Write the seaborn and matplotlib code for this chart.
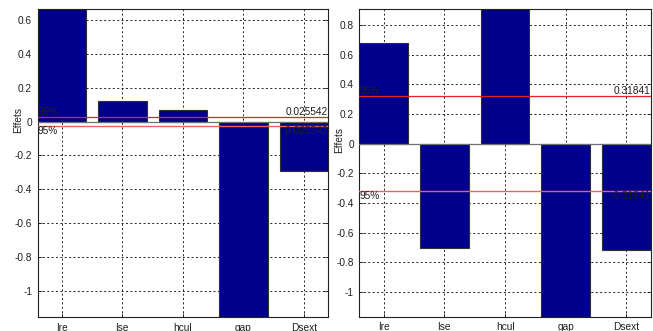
import numpy as np
import pandas as pd
import matplotlib
matplotlib.use("Agg")
import matplotlib.pyplot as plt
import seaborn as sns

# Factor names and effect estimates for the two responses
factors = ["Ire", "Ise", "hcul", "gap", "Dsext"]
effects_left = [0.667, 0.122, 0.067, -1.156, -0.292]
effects_right = [0.677, -0.701, 0.908, -1.167, -0.717]
# 95% significance thresholds
threshold_left = 0.025542
threshold_right = 0.31841

sns.set_theme(style="white")
plt.rcParams["font.family"] = ["Liberation Sans", "DejaVu Sans"]
plt.rcParams["axes.unicode_minus"] = False

navy = "#00008C"
fs = 7.3

fig = plt.figure(figsize=(6.53, 3.31), dpi=100)
ax_l = fig.add_axes([0.0577, 0.0423, 0.4446, 0.9305])
ax_r = fig.add_axes([0.5503, 0.0432, 0.4463, 0.9296])


def draw_panel(ax, values, thr, label_y):
    df = pd.DataFrame({"facteur": factors, "effet": values})
    sns.barplot(data=df, x="facteur", y="effet", color=navy, saturation=1,
                width=0.8, edgecolor="#303030", linewidth=0.8, ax=ax)
    ax.set_axisbelow(True)
    ax.set_xlim(-0.4, len(factors) - 0.6)
    lo, hi = min(values), max(values)
    ax.set_ylim(lo, hi)
    ticks = np.round(np.arange(-1.0, 1.0001, 0.2), 1)
    ticks = [t for t in ticks if lo <= t <= hi]
    ax.set_yticks(ticks)
    ax.set_yticklabels(["0" if abs(t) < 1e-9 else f"{t:g}" for t in ticks])
    ax.grid(True, axis="both", color="#202020", linestyle=(0, (2, 2.5)), linewidth=0.7)
    ax.tick_params(axis="y", direction="in", length=3, width=0.6,
                   labelsize=fs, colors="#202020", pad=4, right=True, left=True)
    ax.tick_params(axis="x", direction="in", length=3, width=0.6,
                   labelsize=fs, colors="#202020", pad=4, top=False, bottom=True)
    for s in ax.spines.values():
        s.set_visible(True)
        s.set_color("#202020")
        s.set_linewidth(0.8)
    ax.set_xlabel("")
    ax.set_ylabel("Effets", fontsize=fs, color="#202020")
    ax.yaxis.set_label_coords(-0.051, label_y)
    # zero baseline
    ax.axhline(0, color="#707070", linewidth=0.9, zorder=3)
    # significance lines
    ax.axhline(thr, color="#e82020", linewidth=0.9, zorder=4)
    ax.axhline(-thr, color="#f06060", linewidth=1.0, zorder=4)
    tr = ax.get_yaxis_transform()
    ax.text(0.0, thr, "95%", transform=tr, ha="left", va="bottom",
            fontsize=fs, color="#202020", zorder=5)
    ax.text(1.0, thr, f"{thr:g}", transform=tr, ha="right", va="bottom",
            fontsize=fs, color="#202020", zorder=5)
    ax.text(0.0, -thr, "95%", transform=tr, ha="left", va="top",
            fontsize=fs, color="#202020", zorder=5)
    ax.text(1.0, -thr, f"{-thr:g}", transform=tr, ha="right", va="top",
            fontsize=fs, color="#202020", zorder=5)


draw_panel(ax_l, effects_left, threshold_left, 0.64)
draw_panel(ax_r, effects_right, threshold_right, 0.574)

fig.savefig("out.png", dpi=100)
